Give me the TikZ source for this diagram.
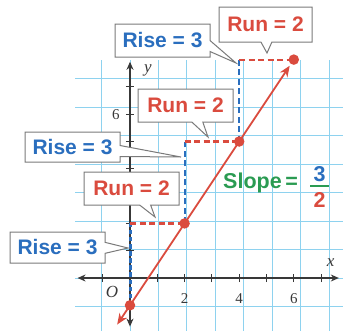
\documentclass[tikz,border=0pt]{standalone}
\usepackage{fontspec}
\newfontfamily\callfont{Liberation Sans}
\newfontfamily\axfont{Liberation Serif}
\usetikzlibrary{shapes.callouts,arrows.meta}
\definecolor{riseblue}{HTML}{2A6EBE}
\definecolor{runred}{HTML}{DA4B3E}
\definecolor{slopegreen}{HTML}{2A9B52}
\definecolor{gridcyan}{HTML}{8ED2EF}
\definecolor{axisgray}{HTML}{383838}
\definecolor{boxgray}{HTML}{7A7A7A}
\begin{document}
\begin{tikzpicture}[x=1pt,y=-1pt,
  callbox/.style={rectangle callout, draw=boxgray, line width=1pt, fill=white, inner sep=0pt,
    minimum width=95pt, minimum height=32pt, callout pointer width=11pt,
    font=\callfont\bfseries\fontsize{21}{21}\selectfont},
  riselbl/.style={callbox, text=riseblue},
  runlbl/.style={callbox, text=runred},
  gridline/.style={gridcyan, line width=0.85pt},
  axtip/.tip={Stealth[length=8pt,width=7pt,inset=2.5pt]},
  axisline/.style={axisgray, line width=1.1pt, axtip-axtip},
  tickline/.style={axisgray, line width=1pt},
  ticklbl/.style={text=axisgray, inner sep=0pt, font=\axfont\fontsize{15}{15}\selectfont},
  varlbl/.style={text=axisgray, inner sep=0pt, font=\axfont\itshape\fontsize{17}{17}\selectfont},
  risedash/.style={color=riseblue, line width=2.2pt, dash pattern=on 6pt off 3.5pt},
  rundash/.style={color=runred, line width=2.2pt, dash pattern=on 6pt off 3.5pt},
  slopetip/.tip={Stealth[length=11pt,width=9pt]},
  slopeline/.style={runred, line width=1.8pt},
  ptdot/.style={circle, fill=runred, inner sep=0pt, minimum size=10.5pt},
  slopetxt/.style={inner sep=0pt, font=\callfont\bfseries\fontsize{21.5}{21.5}\selectfont},
]
\useasboundingbox (0,0) rectangle (343,330);
% grid, axes and labels in graph units
\begin{scope}[shift={(130,278)}, x=27.3pt, y=27.3pt]
  \draw[gridline] (-2,-1.95) grid (7.8,8);
  \coordinate (xl) at (-1.92,0);
  \coordinate (xr) at (7.65,0);
  \coordinate (yb) at (0,-1.78);
  \coordinate (yt) at (0,7.92);
  \draw[axisline] (xl) -- (xr);
  \draw[axisline] (yb) -- (yt);
  \foreach \i in {-1,1,2,3,4,5,6,7} \draw[tickline] (\i,-0.15) -- (\i,0.15);
  \foreach \j in {-1,1,2,3,4,5,6,7} \draw[tickline] (-0.15,\j) -- (0.15,\j);
  \node[ticklbl] (lx2) at (2,-0.74) {2};
  \node[ticklbl] (lx4) at (4,-0.74) {4};
  \node[ticklbl] (lx6) at (6,-0.74) {6};
  \node[ticklbl] (ly6) at (-0.52,6) {6};
  \node[varlbl] (lo) at (-0.66,-0.5) {O};
  \node[varlbl] (lxv) at (7.35,0.55) {x};
  \node[varlbl] (lyv) at (0.66,7.6) {y};
  \coordinate (p0) at (0,-1);
  \coordinate (p1) at (2,2);
  \coordinate (p2) at (4,5);
  \coordinate (p3) at (6,8);
  \coordinate (q1) at (0,2);
  \coordinate (q2) at (2,5);
  \coordinate (q3) at (4,8);
  \coordinate (low) at (-0.47,-1.705);
  \coordinate (top) at (5.85,7.775);
\end{scope}
% rise / run
\draw[risedash, line width=3pt, dash pattern=on 4.5pt off 2.6pt] (p0) -- (q1);
\draw[rundash] (q1) -- (p1);
\draw[risedash] (p1) -- (q2);
\draw[rundash] (q2) -- (p2);
\draw[risedash] (p2) -- (q3);
\draw[rundash] (q3) -- (p3);
% line and points
\draw[slopeline, slopetip-slopetip] (low) -- (top);
\node[ptdot] (d0) at (p0) {};
\node[ptdot] (d1) at (p1) {};
\node[ptdot] (d2) at (p2) {};
\node[ptdot] (d3) at (p3) {};
% callouts
\coordinate (t1) at (128,248);
\coordinate (t2) at (155,217);
\coordinate (t3) at (181,157);
\coordinate (t4) at (208,137);
\coordinate (t5) at (236,63);
\coordinate (t6) at (267,53);
\node[riselbl, minimum height=31pt, callout absolute pointer={(t1)}] (rise1) at (57.5,247.5) {Rise = 3};
\node[runlbl, minimum height=33pt, callout absolute pointer={(t2)}] (run1) at (131.5,188.5) {Run = 2};
\node[riselbl, minimum height=30pt, callout absolute pointer={(t3)}] (rise2) at (72.5,147) {Rise = 3};
\node[runlbl, minimum height=33pt, callout absolute pointer={(t4)}] (run2) at (185.5,105.5) {Run = 2};
\node[riselbl, minimum height=33pt, callout absolute pointer={(t5)}] (rise3) at (162.5,40.5) {Rise = 3};
\node[runlbl, minimum width=93pt, minimum height=35pt, callout absolute pointer={(t6)}] (run3) at (265.5,24.5) {Run = 2};
% slope
\node[slopetxt, text=slopegreen, anchor=base west] (slope) at (223,188) {Slope\,=};
\node[slopetxt, text=riseblue] (num) at (319.5,174.5) {3};
\node[slopetxt, text=runred] (den) at (319.5,199.5) {2};
\coordinate (barl) at (310,186);
\coordinate (barr) at (329,186);
\draw[slopegreen, line width=1.2pt] (barl) -- (barr);
\end{tikzpicture}
\end{document}
